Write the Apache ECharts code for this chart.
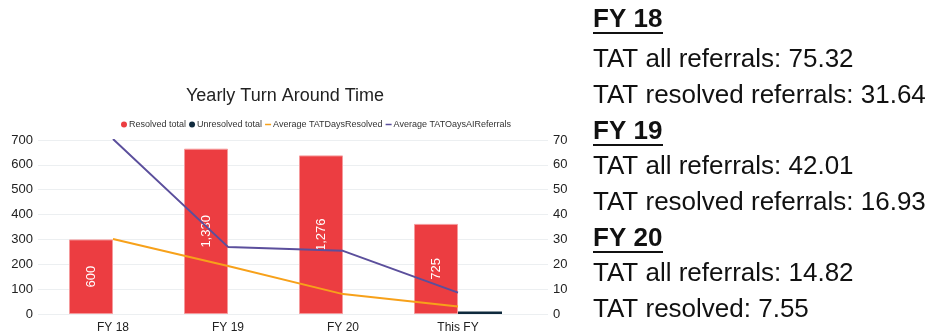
<!DOCTYPE html>
<html>
<head>
<meta charset="utf-8">
<script src="https://cdn.jsdelivr.net/npm/echarts@6/dist/echarts.min.js"></script>
<style>
  html, body { margin: 0; padding: 0; background: #fff; }
  #chart { width: 932px; height: 334px; }
</style>
</head>
<body>
<div id="chart"></div>
<script>
const years = ['FY 18', 'FY 19', 'FY 20', 'This FY']
const resolvedTotal = [600, 1330, 1276, 725]
const unresolvedTotal = [0, 0, 0, 20]
const avgDaysResolved = [30.2, 19.3, 8.0, 3.0]
const avgDaysAll = [70.4, 27.0, 25.4, 8.6]
const leftTicks = [0, 700, 100]
const rightTicks = [0, 70, 10]

// notes on the right side: [text, bold heading?]
const notes = [
  ['FY 18', true],
  ['TAT all referrals: 75.32', false],
  ['TAT resolved referrals: 31.64', false],
  ['FY 19', true],
  ['TAT all referrals: 42.01', false],
  ['TAT resolved referrals: 16.93', false],
  ['FY 20', true],
  ['TAT all referrals: 14.82', false],
  ['TAT resolved: 7.55', false]
]
const noteY = [22, 62, 98, 134, 169, 205, 241, 276, 312]

const FONT = '"Liberation Sans", Arial, Helvetica, sans-serif'
const chart = echarts.init(document.getElementById('chart'))

const graphics = []
notes.forEach((n, i) => {
  graphics.push({
    type: 'text', left: 593, top: noteY[i] - 15,
    style: { text: n[0], fontSize: 26, fontFamily: FONT, fontWeight: n[1] ? 'bold' : 'normal', fill: '#111' }
  })
  if (n[1]) {
    graphics.push({
      type: 'rect', shape: { x: 593, y: noteY[i] + 10, width: 70, height: 2 },
      style: { fill: '#111' }
    })
  }
})

const option = {
  animation: false,
  textStyle: { fontFamily: FONT },
  title: {
    text: 'Yearly Turn Around Time', left: 181, top: 82,
    textStyle: { fontSize: 18, fontWeight: 'normal', color: '#222', fontFamily: FONT }
  },
  legend: {
    left: 116, top: 115, itemGap: 3, itemWidth: 6, itemHeight: 6,
    itemStyle: { borderWidth: 0 },
    textStyle: { fontSize: 9, color: '#333', padding: [0, 0, 0, -3] },
    data: [
      { name: 'Resolved total', icon: 'circle' },
      { name: 'Unresolved total', icon: 'circle' },
      { name: 'Average TATDaysResolved', icon: 'path://M0,0h8v2h-8z' },
      { name: 'Average TATOaysAIReferrals', icon: 'path://M0,0h8v2h-8z' }
    ]
  },
  grid: [
    { left: 38, right: 384, top: 140, bottom: 20 },
    { left: 55.5, right: 416.5, top: 140, bottom: 20 }
  ],
  xAxis: [
    { gridIndex: 0, type: 'category', data: years, show: false },
    {
      gridIndex: 1, type: 'category', data: years,
      axisLine: { show: false }, axisTick: { show: false },
      axisLabel: { fontSize: 12, color: '#222', margin: 8 }
    }
  ],
  yAxis: [
    {
      gridIndex: 0, type: 'value', min: leftTicks[0], max: leftTicks[1], interval: leftTicks[2],
      axisLine: { show: false }, axisTick: { show: false },
      axisLabel: { fontSize: 13, color: '#222', margin: 5 },
      splitLine: { lineStyle: { color: '#eceff1', width: 1 } }
    },
    {
      gridIndex: 0, type: 'value', position: 'right',
      min: rightTicks[0], max: rightTicks[1], interval: rightTicks[2],
      axisLine: { show: false }, axisTick: { show: false },
      axisLabel: { fontSize: 13, color: '#222', margin: 5 },
      splitLine: { show: false }
    },
    { gridIndex: 1, type: 'value', min: 0, max: 1400, show: false, splitLine: { show: false } },
    { gridIndex: 1, type: 'value', min: 0, max: 70, show: false, splitLine: { show: false } }
  ],
  series: [
    {
      name: 'Resolved total', type: 'bar', xAxisIndex: 1, yAxisIndex: 2,
      data: resolvedTotal, barWidth: 44, barGap: '0%',
      itemStyle: { color: '#ec3d41', borderColor: '#f59a9c', borderWidth: 1 },
      label: {
        show: true, position: 'inside', rotate: 90, color: '#fff', fontSize: 13,
        formatter: p => p.value.toLocaleString('en-US')
      }
    },
    {
      name: 'Unresolved total', type: 'bar', xAxisIndex: 1, yAxisIndex: 2,
      data: unresolvedTotal, barWidth: 44, barGap: '0%',
      itemStyle: { color: '#0f2a3d' }
    },
    {
      name: 'Average TATDaysResolved', type: 'line', xAxisIndex: 1, yAxisIndex: 3,
      data: avgDaysResolved, showSymbol: false, symbol: 'none',
      lineStyle: { color: '#f7a11a', width: 2 }, itemStyle: { color: '#f7a11a' }
    },
    {
      name: 'Average TATOaysAIReferrals', type: 'line', xAxisIndex: 1, yAxisIndex: 3,
      data: avgDaysAll, showSymbol: false, symbol: 'none',
      lineStyle: { color: '#5b4f9c', width: 2 }, itemStyle: { color: '#5b4f9c' }
    }
  ],
  graphic: graphics
}

chart.setOption(option)
</script>
</body>
</html>
